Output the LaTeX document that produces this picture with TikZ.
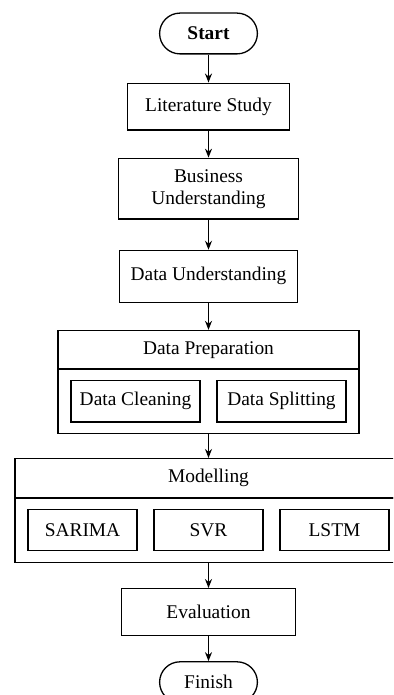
\documentclass[tikz,border=0pt]{standalone}
\usepackage{fontspec}
\setmainfont{Liberation Serif}
\usetikzlibrary{arrows.meta,positioning}

\begin{document}
\begin{tikzpicture}
        [node distance=13pt,
         every node/.style={font=\fontsize{9.7}{11}\selectfont},
         box/.style={rectangle,draw=black,line width=0.65pt,align=center,inner sep=0pt},
         term/.style={box,rounded corners=10.2pt,minimum width=48.9pt,minimum height=20.4pt},
         >={Stealth[length=4.5pt,width=3.5pt]}]
        \clip (-104.25pt,16.75pt) rectangle (92.25pt,-330.75pt);
        \node [term,name=start] {\textbf{Start}};
        \node [box,name=lit,below=14pt of start,minimum width=80.9pt,minimum height=23.4pt] {Literature Study};
        \node [box,name=bus,below=13.5pt of lit,minimum width=89.9pt,minimum height=30.4pt] {Business\\Understanding};
        \node [box,name=du,below=15pt of bus,minimum width=88.9pt,minimum height=25.9pt] {Data Understanding};

        % data preparation with its two steps
        \node [box,name=prep,below=13.5pt of du,minimum width=150.4pt,minimum height=19.2pt] {Data Preparation};
        \node [box,name=prepbody,below=-0.65pt of prep,minimum width=150.4pt,minimum height=32.2pt] {};
        \node [box,name=clean,minimum width=64.4pt,minimum height=20.9pt] at ([xshift=-36.5pt]prepbody.center) {Data Cleaning};
        \node [box,name=split,minimum width=64.4pt,minimum height=20.9pt] at ([xshift=36.5pt]prepbody.center) {Data Splitting};

        % modelling with its three models
        \node [box,name=model,below=12pt of prepbody,minimum width=193.4pt,minimum height=19.7pt] {Modelling};
        \node [box,name=modelbody,below=-0.65pt of model,minimum width=193.4pt,minimum height=32.2pt] {};
        \node [box,name=sarima,minimum width=54.4pt,minimum height=20.4pt] at ([xshift=-63pt]modelbody.center) {SARIMA};
        \node [box,name=svr,minimum width=54.4pt,minimum height=20.4pt] at (modelbody.center) {SVR};
        \node [box,name=lstm,minimum width=54.4pt,minimum height=20.4pt] at ([xshift=63pt]modelbody.center) {LSTM};

        \node [box,name=eval,below=12.5pt of modelbody,minimum width=86.9pt,minimum height=23.4pt] {Evaluation};
        \node [term,name=finish,below=12.5pt of eval] {Finish};

        \path[->,line width=0.65pt] (start) edge (lit)
              (lit) edge (bus)
              (bus) edge (du)
              (du) edge (prep)
              (prepbody) edge (model)
              (modelbody) edge (eval)
              (eval) edge (finish);
    \end{tikzpicture}
\end{document}
